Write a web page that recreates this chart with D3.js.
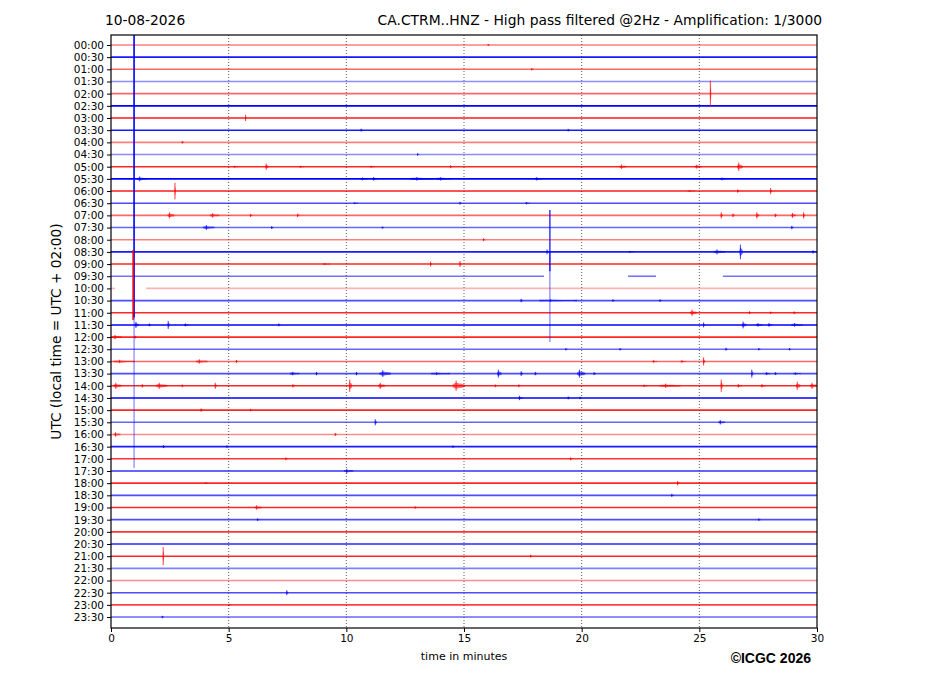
<!DOCTYPE html>
<html>
<head>
<meta charset="utf-8">
<script src="https://cdn.jsdelivr.net/npm/d3@7"></script>
<style>
  body { margin: 0; background: #fff; }
  text { font-family: "DejaVu Sans", sans-serif; }
</style>
</head>
<body>
<svg id="chart" width="927" height="696"></svg>
<script>
// row labels: one trace per half hour
const rowLabels = d3.range(48).map(i => d3.format("02")(Math.floor(i / 2)) + ":" + (i % 2 ? "30" : "00"));
const xTicks = [0, 5, 10, 15, 20, 25, 30];
const rowColors = ["#ff0000", "#0000ff"];

// background noise strength per row (opacity of the trace)
const rowAlpha = [0.5, 0.9, 0.6, 0.45, 0.6, 1, 0.9, 0.9, 0.5, 0.45,
                  0.85, 1, 0.9, 0.7, 0.6, 0.6, 0.5, 0.9, 0.85, 0.55,
                  0.3, 0.7, 0.85, 1, 0.85, 0.6, 0.6, 0.7, 0.85, 1,
                  0.85, 0.6, 0.45, 0.9, 0.8, 0.8, 0.85, 0.7, 0.85, 0.7,
                  0.8, 0.85, 0.85, 0.5, 0.45, 0.7, 0.75, 0.6];

// data gaps: [row, from minute, to minute]
const gaps = [[19, 18.4, 21.97], [19, 23.16, 26.0], [20, 0.17, 1.49]];

// small events: [row, minute, amplitude (in rows), duration (min)]
const events = [
  [0, 16.0, 0.08, 0.1], [2, 17.85, 0.1, 0.1],
  [4, 25.45, 1.07, 0.06],
  [6, 5.7, 0.25, 0.06], [7, 10.6, 0.12, 0.1], [7, 19.4, 0.1, 0.1], [8, 3.0, 0.1, 0.1], [9, 13.0, 0.1, 0.1],
  [10, 6.55, 0.25, 0.15], [10, 14.4, 0.12, 0.1], [10, 21.6, 0.18, 0.3], [10, 24.8, 0.16, 0.3], [10, 26.6, 0.35, 0.25],
  [10, 5.2, 0.08, 0.2], [10, 8.0, 0.08, 0.2], [10, 11.0, 0.08, 0.2],
  [11, 1.1, 0.2, 0.4], [11, 10.6, 0.12, 0.3], [11, 11.1, 0.14, 0.2], [11, 12.7, 0.16, 1.0], [11, 13.8, 0.14, 0.7],
  [11, 18.0, 0.14, 0.3], [11, 25.9, 0.12, 0.2],
  [12, 2.7, 0.68, 0.06], [12, 26.6, 0.14, 0.1], [12, 28.0, 0.25, 0.1], [12, 24.5, 0.08, 0.3],
  [13, 14.8, 0.12, 0.1], [13, 17.6, 0.1, 0.2], [13, 10.3, 0.08, 0.2],
  [14, 2.4, 0.25, 0.3], [14, 4.2, 0.18, 0.4], [14, 5.9, 0.12, 0.1], [14, 7.9, 0.14, 0.1], [14, 25.9, 0.25, 0.1],
  [14, 26.4, 0.14, 0.1], [14, 27.4, 0.25, 0.15], [14, 28.2, 0.14, 0.1], [14, 28.9, 0.2, 0.2], [14, 29.4, 0.25, 0.1],
  [15, 3.9, 0.2, 0.5], [15, 6.8, 0.12, 0.1], [15, 28.9, 0.14, 0.1], [15, 11.5, 0.08, 0.1],
  [16, 15.8, 0.12, 0.1],
  [17, 18.5, 0.2, 0.1], [17, 25.6, 0.2, 0.5], [17, 26.7, 0.6, 0.15], [17, 29.8, 0.14, 0.1], [17, 22.0, 0.08, 0.2],
  [18, 13.55, 0.2, 0.1], [18, 14.8, 0.25, 0.1], [18, 9.0, 0.08, 0.3],
  [21, 17.4, 0.14, 0.1], [21, 18.2, 0.1, 1.6], [21, 21.3, 0.1, 0.1], [21, 23.3, 0.1, 0.1],
  [22, 24.6, 0.25, 0.3], [22, 27.1, 0.12, 0.1], [22, 28.0, 0.1, 0.1], [22, 29.0, 0.12, 0.1],
  [23, 1.0, 0.25, 0.2], [23, 1.6, 0.12, 0.1], [23, 2.4, 0.33, 0.1], [23, 3.1, 0.12, 0.2], [23, 7.1, 0.12, 0.1],
  [23, 25.15, 0.2, 0.1], [23, 26.8, 0.28, 0.2], [23, 27.4, 0.15, 0.3], [23, 27.9, 0.15, 0.2], [23, 28.9, 0.15, 0.5],
  [24, 0.05, 0.18, 0.4], [24, 1.0, 0.12, 0.1],
  [25, 19.3, 0.1, 0.1], [25, 21.6, 0.1, 0.1], [25, 26.1, 0.12, 0.1], [25, 27.5, 0.1, 0.1], [25, 28.8, 0.1, 0.1],
  [26, 0.1, 0.14, 0.9], [26, 3.6, 0.18, 0.5], [26, 5.3, 0.12, 0.1], [26, 23.0, 0.1, 0.2], [26, 24.2, 0.1, 0.2], [26, 25.15, 0.33, 0.1],
  [27, 7.6, 0.14, 0.4], [27, 8.7, 0.14, 0.1], [27, 10.4, 0.14, 0.1], [27, 11.4, 0.28, 0.5], [27, 13.6, 0.12, 0.8],
  [27, 16.4, 0.33, 0.2], [27, 17.4, 0.2, 0.1], [27, 18.0, 0.14, 0.1], [27, 19.8, 0.33, 0.35], [27, 20.5, 0.12, 0.1],
  [27, 27.2, 0.33, 0.1], [27, 27.8, 0.12, 0.2], [27, 28.2, 0.12, 0.1], [27, 29.0, 0.1, 0.3],
  [28, 0.1, 0.25, 0.35], [28, 1.3, 0.14, 0.1], [28, 1.9, 0.25, 0.5], [28, 3.0, 0.12, 0.1], [28, 4.4, 0.25, 0.1],
  [28, 7.7, 0.14, 0.1], [28, 10.1, 0.5, 0.15], [28, 11.35, 0.25, 0.3], [28, 14.5, 0.42, 0.55], [28, 16.3, 0.12, 0.1],
  [28, 17.3, 0.12, 0.1], [28, 23.3, 0.18, 0.9], [28, 25.9, 0.5, 0.1], [28, 26.6, 0.14, 0.2], [28, 27.6, 0.14, 0.2],
  [28, 29.1, 0.33, 0.2], [28, 29.7, 0.25, 0.3], [28, 22.6, 0.1, 0.2],
  [29, 17.3, 0.18, 0.2], [29, 19.4, 0.12, 0.1], [29, 19.9, 0.1, 0.1],
  [30, 3.8, 0.14, 0.1], [30, 5.9, 0.1, 0.1],
  [31, 11.2, 0.25, 0.1], [31, 25.8, 0.18, 0.3],
  [32, 0.1, 0.18, 0.3], [32, 9.5, 0.12, 0.1],
  [33, 2.2, 0.12, 0.1], [33, 4.9, 0.1, 0.1], [33, 14.5, 0.1, 0.1],
  [34, 7.4, 0.12, 0.1], [34, 19.5, 0.12, 0.1],
  [35, 9.9, 0.18, 0.4],
  [36, 24.05, 0.18, 0.1], [36, 4.0, 0.06, 0.1],
  [37, 23.8, 0.12, 0.1],
  [38, 6.1, 0.18, 0.3], [38, 12.9, 0.1, 0.1],
  [39, 6.2, 0.1, 0.1], [39, 27.5, 0.1, 0.1],
  [42, 2.2, 0.75, 0.06], [42, 17.8, 0.12, 0.1],
  [45, 7.44, 0.2, 0.1],
  [46, 5.0, 0.06, 0.1],
  [47, 2.15, 0.1, 0.1]
];

// the large, clipped signals that cross many rows: [row, minute, up (rows), down (rows), opacity, stroke]
const bigSignals = [
  [13, 0.98, 13.9, 9.4, 1, 1.6],
  [20, 0.94, 3.15, 2.6, 0.75, 2],
  [23, 0.98, 1, 11.75, 0.45, 1.3],
  [17, 18.65, 3.45, 1.6, 0.9, 1.3],
  [17, 18.65, 0, 7.4, 0.55, 1.1]
];

const svg = d3.select("#chart");
const pLeft = 111, pRight = 817, pTop = 35, pBottom = 628;

const x = d3.scaleLinear().domain([0, 30]).range([pLeft, pRight]);
const y = d3.scaleLinear().domain([-0.82, 47.9]).range([pTop, pBottom]);
const rowPx = y(1) - y(0);

svg.append("defs").append("clipPath").attr("id", "plotclip")
  .append("rect").attr("x", pLeft).attr("y", pTop).attr("width", pRight - pLeft).attr("height", pBottom - pTop);

const plot = svg.append("g").attr("clip-path", "url(#plotclip)");

// base traces, split around the gaps
const segments = [];
rowLabels.forEach((lab, i) => {
  const cuts = gaps.filter(g => g[0] === i).sort((a, b) => a[1] - b[1]);
  let start = 0;
  cuts.forEach(g => { segments.push({ row: i, from: start, to: g[1] }); start = g[2]; });
  segments.push({ row: i, from: start, to: 30 });
});

plot.selectAll("line.trace").data(segments).enter()
  .append("line").attr("class", "trace")
  .attr("x1", s => x(s.from)).attr("x2", s => x(s.to))
  .attr("y1", s => y(s.row)).attr("y2", s => y(s.row))
  .attr("stroke", s => rowColors[s.row % 2])
  .attr("stroke-opacity", s => rowAlpha[s.row])
  .attr("stroke-width", 1.6);

// bursts: a soft envelope around the trace
const burst = d3.area()
  .x(p => x(p[0])).y0(p => p[1] - p[2]).y1(p => p[1] + p[2])
  .curve(d3.curveMonotoneX);

plot.selectAll("path.burst").data(events).enter()
  .append("path").attr("class", "burst")
  .attr("d", e => {
    const cy = y(e[0]), a = e[2] * rowPx, m = e[1], d = e[3];
    return burst([[m, cy, 0.8], [m + d * 0.3, cy, a * 0.6], [m + d * 0.55, cy, a * 0.45],
                  [m + d * 0.75, cy, a * 0.4], [m + d, cy, 0.8]]);
  })
  .attr("fill", e => rowColors[e[0] % 2])
  .attr("fill-opacity", 0.55);

plot.selectAll("line.spike").data(events).enter()
  .append("line").attr("class", "spike")
  .attr("x1", e => x(e[1] + e[3] * 0.3)).attr("x2", e => x(e[1] + e[3] * 0.3))
  .attr("y1", e => y(e[0] - e[2])).attr("y2", e => y(e[0] + e[2]))
  .attr("stroke", e => rowColors[e[0] % 2])
  .attr("stroke-opacity", 0.85)
  .attr("stroke-width", 0.9);

plot.selectAll("line.big").data(bigSignals).enter()
  .append("line").attr("class", "big")
  .attr("x1", b => x(b[1])).attr("x2", b => x(b[1]))
  .attr("y1", b => y(b[0] - b[2])).attr("y2", b => y(b[0] + b[3]))
  .attr("stroke", b => rowColors[b[0] % 2])
  .attr("stroke-opacity", b => b[4])
  .attr("stroke-width", b => b[5]);

// dotted minute grid
svg.append("g").selectAll("line").data(xTicks.slice(1, -1)).enter()
  .append("line")
  .attr("x1", d => x(d)).attr("x2", d => x(d))
  .attr("y1", pTop).attr("y2", pBottom)
  .attr("stroke", "#333").attr("stroke-width", 0.8)
  .attr("stroke-dasharray", "1,2");

// frame
svg.append("rect").attr("x", pLeft).attr("y", pTop).attr("width", pRight - pLeft).attr("height", pBottom - pTop)
  .attr("fill", "none").attr("stroke", "#000").attr("stroke-width", 1.2);

// axes
const yAxis = svg.append("g").attr("transform", `translate(${pLeft},0)`)
  .call(d3.axisLeft(y).tickValues(d3.range(48)).tickFormat(i => rowLabels[i]).tickSize(4).tickPadding(3));
const xAxis = svg.append("g").attr("transform", `translate(0,${pBottom})`)
  .call(d3.axisBottom(x).tickValues(xTicks).tickSize(4).tickPadding(3));
[yAxis, xAxis].forEach(a => {
  a.select(".domain").remove();
  a.selectAll("text").attr("font-size", "10.5px").attr("fill", "#000").style("font-family", "DejaVu Sans");
  a.selectAll(".tick line").attr("stroke", "#000");
});

// labels
svg.append("text").attr("x", (pLeft + pRight) / 2).attr("y", 660).attr("text-anchor", "middle")
  .attr("font-size", "11px").text("time in minutes");
svg.append("text").attr("transform", `translate(61,${(pTop + pBottom) / 2}) rotate(-90)`)
  .attr("text-anchor", "middle").attr("font-size", "13.7px").text("UTC (local time = UTC + 02:00)");
svg.append("text").attr("x", 105).attr("y", 25).attr("font-size", "13.8px").text("10-08-2026");
svg.append("text").attr("x", 822).attr("y", 25).attr("text-anchor", "end").attr("font-size", "13.85px")
  .text("CA.CTRM..HNZ - High pass filtered @2Hz - Amplification: 1/3000");
svg.append("text").attr("x", 811).attr("y", 663).attr("text-anchor", "end").attr("font-size", "14px")
  .attr("font-weight", "bold").style("font-family", "Liberation Sans, Arial, sans-serif").text("©ICGC 2026");
</script>
</body>
</html>
